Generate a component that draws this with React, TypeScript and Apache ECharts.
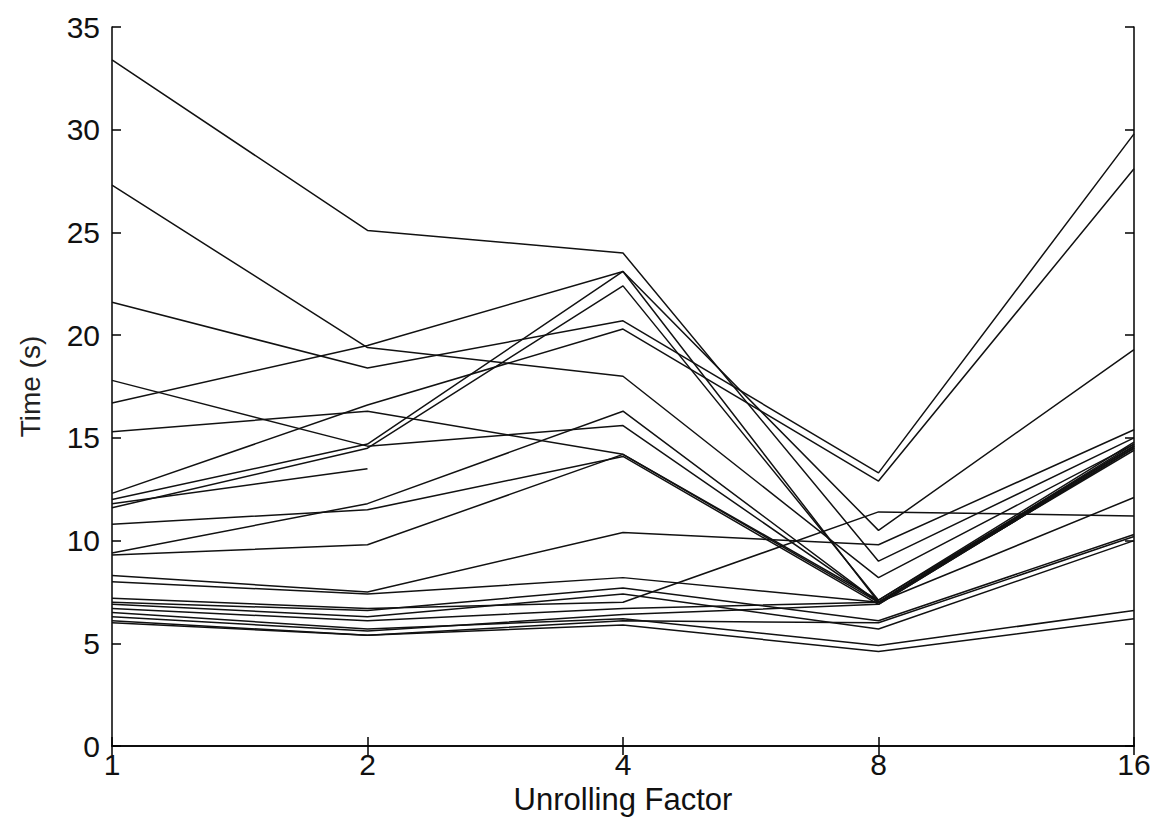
import React, { useEffect, useRef } from "react";
import * as echarts from "echarts";

const categories = ["1", "2", "4", "8", "16"];
const yTicks = { min: 0, max: 35, interval: 5 };

// Each run: times (s) at unrolling factors 1, 2, 4, 8, 16
const run01 = [33.4, 25.1, 24.0, 9.0, 15.0];
const run02 = [27.3, 19.4, 18.0, 8.2, 14.7];
const run03 = [21.6, 18.4, 20.7, 13.3, 29.8];
const run04 = [17.8, 14.6, 15.6, 7.0, 14.6];
const run05 = [16.7, 19.5, 23.1, 10.5, 19.3];
const run06 = [15.3, 16.3, 14.2, 7.1, 14.8];
const run07 = [12.3, 16.6, 20.3, 12.9, 28.1];
const run08 = [12.0, 14.7, 23.1, 7.0, 14.5];
const run09 = [11.8, 13.5, null, null, null];
const run10 = [11.6, 14.5, 22.4, 7.1, 14.6];
const run11 = [10.8, 11.5, 14.1, 6.9, 14.5];
const run12 = [9.4, 11.8, 16.3, 7.0, 14.7];
const run13 = [9.3, 9.8, 14.2, 7.0, 14.4];
const run14 = [8.3, 7.5, 10.4, 9.8, 15.4];
const run15 = [8.0, 7.4, 8.2, 7.0, 12.1];
const run16 = [7.2, 6.7, 7.0, 11.4, 11.2];
const run17 = [7.0, 6.6, 7.7, 6.1, 10.3];
const run18 = [6.9, 6.3, 7.4, 5.7, 10.0];
const run19 = [6.7, 6.1, 6.7, 7.0, 14.6];
const run20 = [6.5, 5.7, 6.2, 4.9, 6.6];
const run21 = [6.1, 5.4, 5.9, 4.6, 6.2];
const run22 = [6.0, 5.4, 6.1, 6.0, 10.2];
const run23 = [6.3, 5.6, 6.4, 6.9, 14.5];

const runs = [
  run01, run02, run03, run04, run05, run06, run07, run08, run09, run10, run11,
  run12, run13, run14, run15, run16, run17, run18, run19, run20, run21, run22, run23,
];

export default function App() {
  const ref = useRef<HTMLDivElement>(null);
  useEffect(() => {
    document.body.style.margin = "0";
    if (!ref.current) return;
    const chart = echarts.init(ref.current, null, { renderer: "svg" });
    const sansFont = { fontFamily: "'Liberation Sans', Arial, sans-serif", color: "#111" };
    const axisLineStyle = { color: "#000", width: 1.5 };
    const tick = { show: true, inside: true, length: 9, lineStyle: { color: "#000", width: 1.5 } };
    chart.setOption({
      animation: false,
      backgroundColor: "#fff",
      grid: { left: 112, right: 27, top: 27, bottom: 72, containLabel: false },
      xAxis: [
        {
          type: "category",
          data: categories,
          boundaryGap: false,
          position: "bottom",
          axisLine: { show: true, lineStyle: axisLineStyle },
          axisTick: tick,
          axisLabel: { ...sansFont, fontSize: 30, margin: 3 },
          splitLine: { show: false },
          name: "Unrolling Factor",
          nameLocation: "middle",
          nameGap: 36,
          nameTextStyle: { ...sansFont, fontSize: 31 },
        },
        {
          type: "category",
          data: categories,
          boundaryGap: false,
          position: "top",
          axisLine: { show: true, lineStyle: axisLineStyle },
          axisTick: tick,
          axisLabel: { show: false },
          splitLine: { show: false },
        },
      ],
      yAxis: [
        {
          type: "value",
          ...yTicks,
          position: "left",
          axisLine: { show: true, lineStyle: axisLineStyle },
          axisTick: tick,
          axisLabel: { ...sansFont, fontSize: 30, margin: 12 },
          splitLine: { show: false },
          name: "Time (s)",
          nameLocation: "middle",
          nameGap: 68,
          nameRotate: 90,
          nameTextStyle: { ...sansFont, color: "#222", fontSize: 28 },
        },
        {
          type: "value",
          ...yTicks,
          position: "right",
          axisLine: { show: true, lineStyle: axisLineStyle },
          axisTick: tick,
          axisLabel: { show: false },
          splitLine: { show: false },
        },
      ],
      series: runs.map((r, i) => ({
        name: "run" + (i + 1),
        type: "line",
        data: r,
        xAxisIndex: 0,
        yAxisIndex: 0,
        symbol: "none",
        connectNulls: false,
        silent: true,
        lineStyle: { color: "#111", width: 1.5 },
      })),
    });
    return () => chart.dispose();
  }, []);
  return <div ref={ref} style={{ width: 1161, height: 820 }} />;
}
